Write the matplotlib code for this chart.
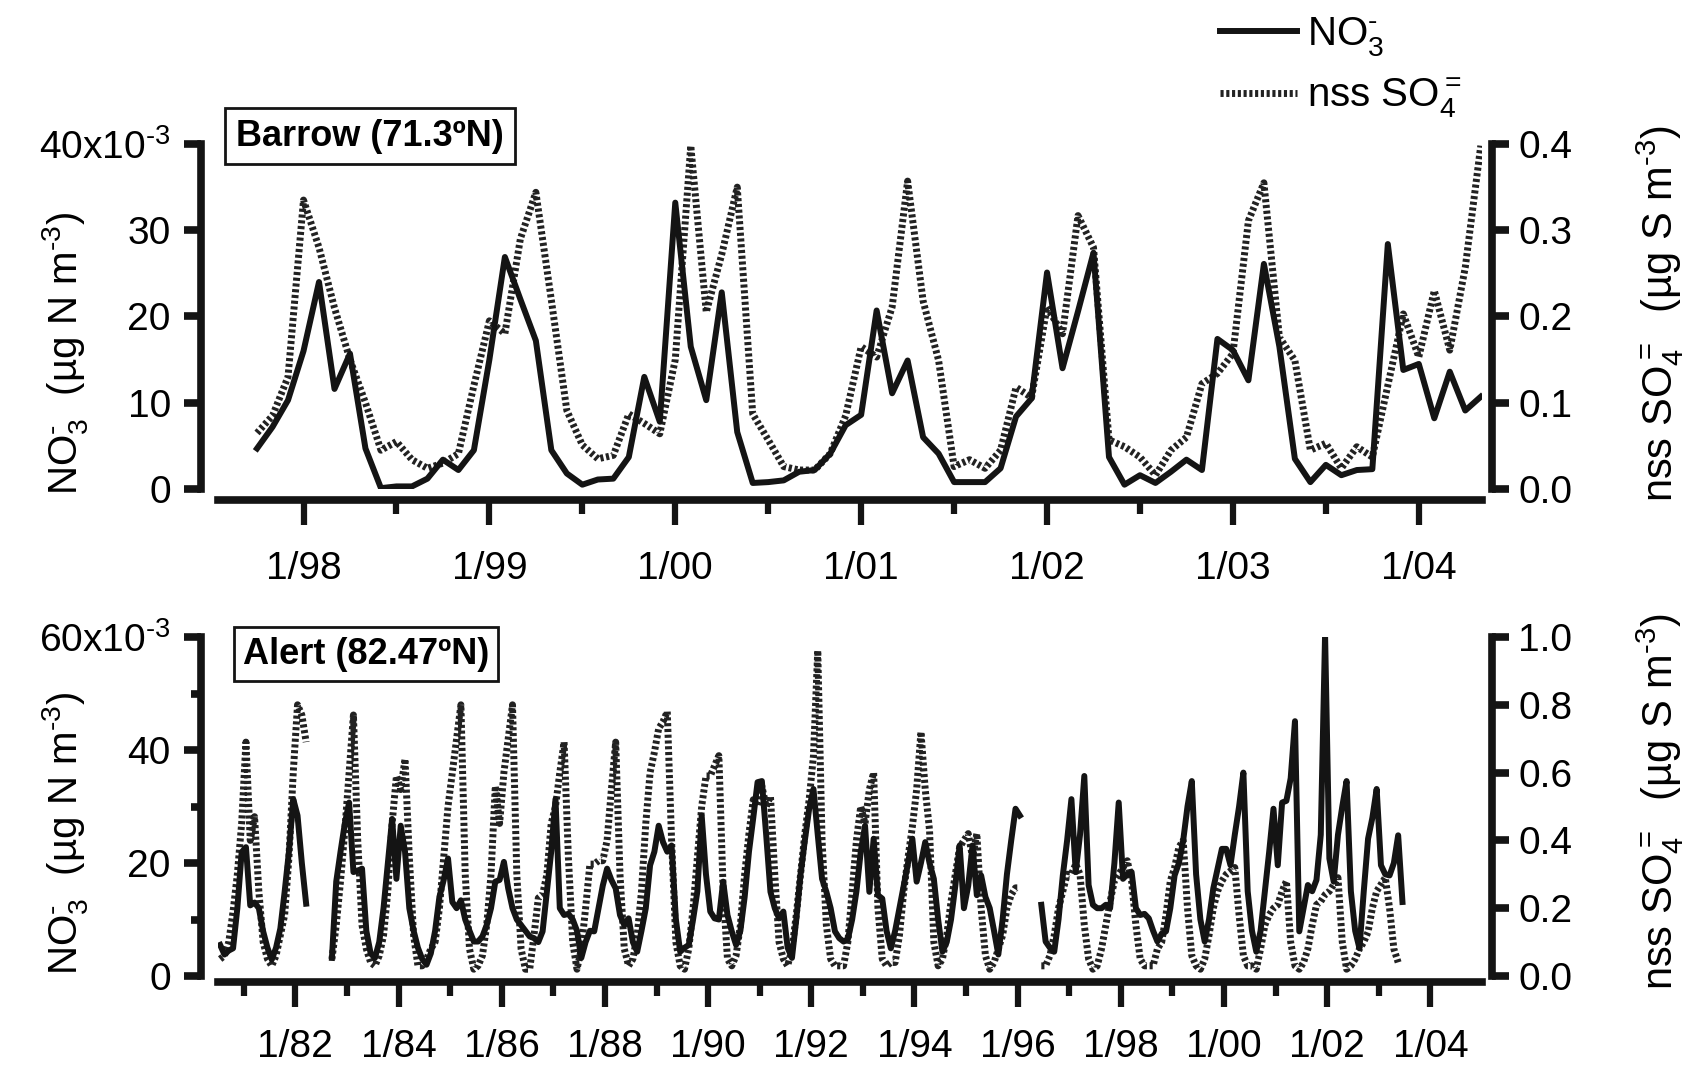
import numpy as np
import matplotlib
matplotlib.use('Agg')
import matplotlib.pyplot as plt
from matplotlib.ticker import FixedLocator, FixedFormatter

plt.rcParams['font.family'] = ['Liberation Sans', 'DejaVu Sans']
plt.rcParams['mathtext.fontset'] = 'custom'
plt.rcParams['mathtext.rm'] = 'Liberation Sans'
plt.rcParams['mathtext.bf'] = 'Liberation Sans:bold'
plt.rcParams['mathtext.default'] = 'regular'

nan = np.nan

# Barrow, monthly means Oct 1997 .. May 2004
barrow_start = 1997.75
barrow_no3 = [4.7, 7.2, 10.3, 16.0, 24.0, 11.6, 15.7, 4.7, 0.1, 0.3, 0.3, 1.2,
              3.4, 2.2, 4.5, 15.0, 26.9, 22.0, 17.2, 4.5, 1.8, 0.5, 1.1, 1.2,
              3.7, 13.0, 7.8, 33.2, 16.5, 10.3, 22.8, 6.6, 0.7, 0.8, 1.0, 2.0,
              2.2, 4.1, 7.4, 8.6, 20.7, 11.1, 14.9, 6.0, 4.1, 0.8, 0.8, 0.8,
              2.4, 8.4, 10.5, 25.1, 14.0, 20.6, 27.4, 3.7, 0.5, 1.6, 0.7, 2.0,
              3.4, 2.2, 17.4, 16.1, 12.6, 26.1, 16.5, 3.5, 0.8, 2.8, 1.6, 2.2,
              2.3, 28.4, 13.8, 14.5, 8.2, 13.6, 9.1, 10.7]
barrow_so4 = [0.065, 0.085, 0.13, 0.335, 0.28, 0.21, 0.15, 0.10, 0.045, 0.055, 0.034, 0.024,
              0.030, 0.041, 0.12, 0.195, 0.18, 0.29, 0.344, 0.219, 0.091, 0.051, 0.035, 0.039,
              0.087, 0.076, 0.064, 0.15, 0.398, 0.205, 0.272, 0.35, 0.087, 0.057, 0.026, 0.022,
              0.022, 0.041, 0.085, 0.165, 0.153, 0.211, 0.357, 0.218, 0.149, 0.026, 0.034, 0.024,
              0.045, 0.118, 0.106, 0.211, 0.18, 0.317, 0.28, 0.057, 0.049, 0.037, 0.016, 0.045,
              0.06, 0.122, 0.134, 0.157, 0.311, 0.355, 0.176, 0.149, 0.045, 0.053, 0.024, 0.049,
              0.037, 0.12, 0.203, 0.153, 0.23, 0.161, 0.257, 0.398]

# Alert, monthly means Jul 1980 .. Jun 2003 (nan = no data)
alert_start = 1980.5
alert_no3 = [5.5, 3.8, 4.5, 4.9, 12, 21.9,
             22.8, 12.5, 13, 12, 7.9, 5, 2.9, 5, 8.4, 14.9, 22, 31.3,
             28.4, 20, 12.8, nan, nan, nan, nan, nan, 3.2, 16.7, 22, 27,
             30.7, 18.4, 18.6, 19.0, 8, 4, 3.2, 6, 12, 20, 27.8, 17.2,
             26.6, 22, 12, 8, 5, 3, 2, 4, 8, 14, 17, 20.8,
             13.1, 12, 13.4, 10, 8, 6.1, 6.1, 7, 9, 12, 16.7, 17,
             20.2, 15.5, 12, 10, 9, 8, 7, 6.7, 6, 7.9, 15, 22,
             31.3, 12, 10.8, 11, 10, 8, 3.2, 6, 8, 7.9, 12, 16,
             19, 17, 15.5, 10.8, 9, 10.2, 6, 4.3, 8, 12, 19.6, 22,
             26.6, 23.7, 22, 23.1, 10, 4.3, 5, 5.5, 10, 15, 28.4, 18,
             11.4, 10.2, 10, 16.7, 10.8, 7.9, 5.5, 8, 14, 22, 28, 34.3,
             34.5, 25, 14.9, 12, 10.2, 11.4, 5, 3.2, 10, 18, 24, 29.6,
             33.1, 25, 17.2, 14.9, 12, 7.9, 6.7, 6.1, 6.5, 10, 15, 22,
             26.6, 14.9, 24.3, 14.3, 13.7, 8, 4.9, 8, 12, 16, 20, 24.3,
             16.7, 20, 23.7, 20, 17.2, 10, 4.3, 6, 10, 16, 23.1, 12,
             16, 23.1, 14.3, 17.8, 14, 12, 8, 3.8, 10, 18, 24, 29.6,
             28.4, nan, nan, nan, nan, 12.6, 6.1, 5, 4.3, 10, 17.8, 24,
             31.3, 18.4, 25, 35.4, 16.1, 12.6, 12, 12, 12.6, 12, 20, 30.7,
             17.2, 18, 18.4, 12, 10.8, 11, 10.2, 8, 6.1, 7.5, 7.9, 12,
             17.8, 20, 24, 30, 34.5, 18, 10, 6.1, 10, 15.5, 19, 22.5,
             22.5, 19.6, 25, 30, 36, 15, 8, 4.3, 8, 15, 22, 29.6,
             19.6, 30.7, 31, 35, 45.1, 7.9, 12, 16.1, 15, 17, 25, 60.4,
             20.8, 16.7, 25, 30, 34.5, 15, 8, 4.9, 15, 24.3, 28, 33.1,
             19.6, 18, 17.8, 20, 24.9, 13.1]
alert_so4 = [0.05, 0.06, 0.10, 0.19, 0.30, 0.45,
             0.69, 0.40, 0.47, 0.25, 0.10, 0.05, 0.03, 0.06, 0.12, 0.18, 0.35, 0.60,
             0.80, 0.77, 0.69, nan, nan, nan, nan, nan, 0.05, 0.15, 0.28, 0.43,
             0.60, 0.77, 0.40, 0.15, 0.08, 0.04, 0.03, 0.06, 0.12, 0.25, 0.45, 0.59,
             0.55, 0.64, 0.35, 0.12, 0.03, 0.03, 0.05, 0.08, 0.10, 0.20, 0.35, 0.50,
             0.60, 0.70, 0.80, 0.30, 0.08, 0.02, 0.03, 0.06, 0.15, 0.30, 0.56, 0.45,
             0.60, 0.70, 0.80, 0.30, 0.08, 0.02, 0.02, 0.12, 0.23, 0.24, 0.30, 0.45,
             0.50, 0.60, 0.69, 0.35, 0.10, 0.02, 0.08, 0.20, 0.33, 0.33, 0.34, 0.34,
             0.40, 0.55, 0.69, 0.30, 0.08, 0.03, 0.05, 0.12, 0.25, 0.45, 0.60, 0.66,
             0.73, 0.75, 0.78, 0.40, 0.10, 0.03, 0.02, 0.08, 0.20, 0.35, 0.50, 0.59,
             0.59, 0.62, 0.65, 0.25, 0.05, 0.03, 0.06, 0.15, 0.30, 0.42, 0.52, 0.50,
             0.56, 0.50, 0.53, 0.30, 0.10, 0.05, 0.03, 0.08, 0.18, 0.30, 0.42, 0.52,
             0.65, 0.96, 0.40, 0.15, 0.05, 0.03, 0.03, 0.03, 0.10, 0.25, 0.40, 0.50,
             0.45, 0.55, 0.60, 0.20, 0.05, 0.03, 0.04, 0.04, 0.12, 0.25, 0.35, 0.44,
             0.55, 0.72, 0.55, 0.43, 0.10, 0.03, 0.05, 0.12, 0.22, 0.30, 0.38, 0.40,
             0.42, 0.35, 0.42, 0.20, 0.06, 0.02, 0.04, 0.08, 0.12, 0.20, 0.24, 0.26,
             0.26, nan, nan, nan, nan, 0.03, 0.03, 0.06, 0.12, 0.20, 0.25, 0.30,
             0.30, 0.33, 0.30, 0.15, 0.05, 0.02, 0.03, 0.08, 0.15, 0.22, 0.28, 0.30,
             0.32, 0.34, 0.28, 0.15, 0.05, 0.03, 0.03, 0.03, 0.08, 0.10, 0.18, 0.28,
             0.32, 0.38, 0.40, 0.20, 0.06, 0.03, 0.02, 0.05, 0.12, 0.20, 0.25, 0.28,
             0.30, 0.31, 0.32, 0.18, 0.06, 0.03, 0.03, 0.02, 0.08, 0.15, 0.18, 0.20,
             0.21, 0.25, 0.28, 0.10, 0.03, 0.02, 0.04, 0.08, 0.15, 0.21, 0.22, 0.24,
             0.25, 0.27, 0.29, 0.10, 0.02, 0.03, 0.05, 0.08, 0.10, 0.13, 0.20, 0.25,
             0.27, 0.29, 0.20, 0.08, 0.04, nan]

barrow_years = [1998, 1999, 2000, 2001, 2002, 2003, 2004]
barrow_xlabels = ['1/98', '1/99', '1/00', '1/01', '1/02', '1/03', '1/04']
alert_years = [1982, 1984, 1986, 1988, 1990, 1992, 1994, 1996, 1998, 2000, 2002, 2004]
alert_xlabels = ['1/82', '1/84', '1/86', '1/88', '1/90', '1/92', '1/94', '1/96',
                 '1/98', '1/00', '1/02', '1/04']

barrow_t = barrow_start + np.arange(len(barrow_no3)) / 12.0
alert_t = alert_start + (np.arange(len(alert_no3)) + 0.5) / 12.0

W, H = 1708, 1066
fig = plt.figure(figsize=(W / 100, H / 100), dpi=100)

ink = '#141414'
solid_kw = dict(color=ink, lw=4.3)
dot_kw = dict(color='#222222', lw=5.0, linestyle=(0, (0.45, 0.38)))

no3_label = r'NO$_3^{\text{-}}$  (µg N m$^{\text{-3}}$)'
so4_label = r'nss SO$_4^{=}$  (µg S m$^{\text{-3}}$)'


def setup(ax, ax2, xmaj, xmin, xlabels, bottom_out, ly, ry):
    for s in ['top', 'right']:
        ax.spines[s].set_visible(False)
    for s in ['top', 'left', 'bottom']:
        ax2.spines[s].set_visible(False)
    ax.spines['left'].set_position(('outward', 12))
    ax.spines['bottom'].set_position(('outward', bottom_out))
    ax2.spines['right'].set_position(('outward', 7))
    for sp in [ax.spines['left'], ax.spines['bottom'], ax2.spines['right']]:
        sp.set_linewidth(5.5)
        sp.set_color(ink)
    ax.xaxis.set_major_locator(FixedLocator(xmaj))
    ax.xaxis.set_major_formatter(FixedFormatter(xlabels))
    ax.xaxis.set_minor_locator(FixedLocator(xmin))
    ax.tick_params(axis='x', which='major', direction='out', length=18, width=4.5,
                   labelsize=28, pad=19, color=ink)
    ax.tick_params(axis='x', which='minor', direction='out', length=10, width=4.5,
                   color=ink)
    ax.tick_params(axis='y', which='major', direction='out', length=12, width=5.5,
                   labelsize=28, pad=10, color=ink)
    ax.tick_params(axis='y', which='minor', direction='out', length=7, width=5.5,
                   color=ink)
    ax2.tick_params(axis='y', which='major', direction='out', length=12, width=5.5,
                    labelsize=28, pad=7, color=ink)
    ax.set_ylabel(no3_label, fontsize=29)
    ax2.set_ylabel(so4_label, fontsize=30)
    ax.yaxis.set_label_coords(-0.101, ly)
    ax2.yaxis.set_label_coords(1.120, ry)
    ax.set_zorder(ax2.get_zorder() + 1)
    ax.patch.set_visible(False)


# ---- Barrow panel
ax = fig.add_axes([218 / W, 1 - 489 / H, 1264 / W, 345 / H])
ax2 = ax.twinx()
l2, = ax2.plot(barrow_t, barrow_so4, **dot_kw)
l1, = ax.plot(barrow_t, barrow_no3, **solid_kw)
ax.set_xlim(1997.54, 2004.34)
ax.set_ylim(0, 40)
ax2.set_ylim(0, 0.4)
ax.set_yticks([0, 10, 20, 30, 40])
ax.set_yticklabels(['0', '10', '20', '30', r'40x10$^{\text{-3}}$'])
ax2.set_yticks([0, 0.1, 0.2, 0.3, 0.4])
ax2.set_yticklabels(['0.0', '0.1', '0.2', '0.3', '0.4'])
setup(ax, ax2, barrow_years, [y + 0.5 for y in range(1997, 2004)], barrow_xlabels, 8,
      0.394, 0.507)
fig.text(370 / W, 1 - 136 / H, 'Barrow (71.3ºN)', fontsize=26, fontweight='bold',
         ha='center', va='center',
         bbox=dict(boxstyle='square,pad=0.3', fc='white', ec=ink, lw=2))

# ---- Alert panel
bx = fig.add_axes([218 / W, 1 - 976 / H, 1264 / W, 339 / H])
bx2 = bx.twinx()
bx2.plot(alert_t, alert_so4, **dot_kw)
bx.plot(alert_t, alert_no3, **solid_kw)
bx.set_xlim(1980.5, 2005.0)
bx.set_ylim(0, 60)
bx2.set_ylim(0, 1.0)
bx.set_yticks([0, 20, 40, 60])
bx.set_yticklabels(['0', '20', '40', r'60x10$^{\text{-3}}$'])
bx.set_yticks([10, 30, 50], minor=True)
bx2.set_yticks([0, 0.2, 0.4, 0.6, 0.8, 1.0])
bx2.set_yticklabels(['0.0', '0.2', '0.4', '0.6', '0.8', '1.0'])
setup(bx, bx2, alert_years, list(range(1981, 2005, 2)), alert_xlabels, 4,
      0.422, 0.513)
bx.tick_params(axis='x', which='major', pad=16)
fig.text(366 / W, 1 - 654 / H, 'Alert (82.47ºN)', fontsize=26, fontweight='bold',
         ha='center', va='center',
         bbox=dict(boxstyle='square,pad=0.25', fc='white', ec=ink, lw=2))

fig.legend(handles=[l1, l2], labels=[r'NO$_3^{\text{-}}$', 'nss SO$_4^=$'], loc='upper left',
           bbox_to_anchor=(1200 / W, 1.005), frameon=False, fontsize=29,
           handlelength=1.9, handletextpad=0.25, labelspacing=0.45, borderaxespad=0.1)

fig.savefig('out.png', dpi=100, facecolor='white')
